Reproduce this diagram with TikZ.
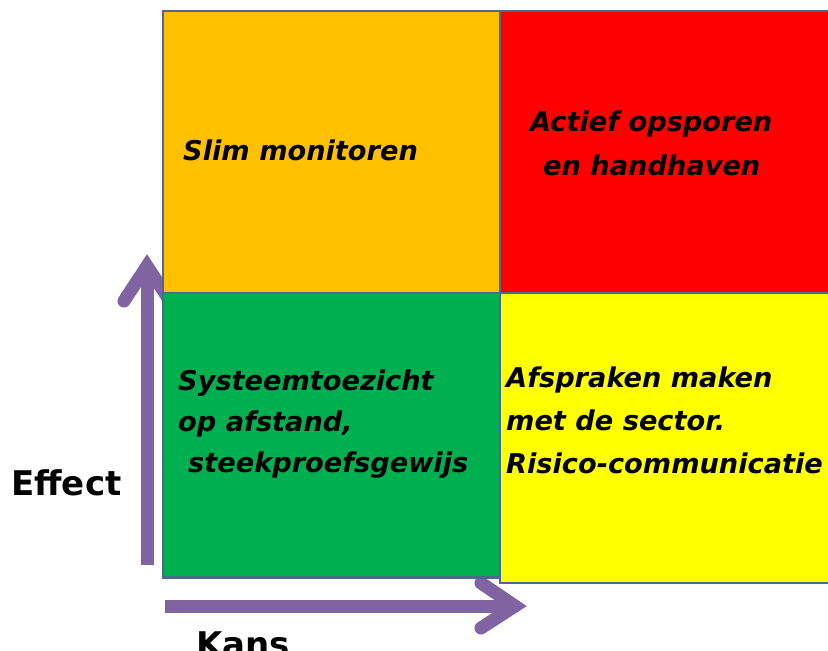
\documentclass[tikz,border=0pt]{standalone}
\usepackage{fontspec}
\setmainfont{DejaVu Sans}
\definecolor{qorange}{HTML}{FFC000}
\definecolor{qred}{HTML}{FF0000}
\definecolor{qgreen}{HTML}{00B050}
\definecolor{qyellow}{HTML}{FFFF00}
\definecolor{qpurple}{HTML}{8064A2}
\definecolor{qborder}{HTML}{4A6A8E}
\tikzset{
  quad/.style={draw=qborder, line width=1.8pt},
  qtext/.style={anchor=base west, inner sep=0pt, font=\fontsize{27.2}{30}\selectfont\bfseries\itshape},
  axtext/.style={anchor=base west, inner sep=0pt, font=\fontsize{34}{38}\selectfont\bfseries},
  shaft/.style={draw=qpurple, line width=13pt, line cap=butt},
  chevron/.style={draw=qpurple, line width=13pt, line cap=round, line join=miter},
}
\begin{document}
\begin{tikzpicture}[x=1pt,y=-1pt]
\useasboundingbox (0,0) rectangle (828,651);
% axes (drawn first, partly hidden behind the quadrants)
\coordinate (vstart) at (147,565);
\coordinate (vtip) at (147,266);
\coordinate (vl) at (124,301);
\coordinate (vr) at (170,301);
\coordinate (hstart) at (165,606);
\coordinate (htip) at (515,606);
\coordinate (hu) at (481,583);
\coordinate (hd) at (481,628);
\draw[shaft] (vstart) -- (vtip);
\draw[chevron] (vl) -- (vtip) -- (vr);
\draw[shaft] (hstart) -- (htip);
\draw[chevron] (hu) -- (htip) -- (hd);
% quadrants
\fill[qorange] (163,11) rectangle (500,293);
\fill[qred] (500,11) rectangle (832,293);
\fill[qgreen] (163,293) rectangle (500,578);
\fill[qyellow] (500,293) rectangle (832,583);
\draw[quad] (163,11) rectangle (500,293);
\draw[quad] (500,11) -- (832,11);
\draw[quad] (500,293) -- (832,293);
\draw[quad] (163,293) rectangle (500,578);
\draw[qborder, line width=3pt] (163,577) -- (500,577);
\draw[quad] (500,293) -- (500,583) -- (832,583);
% texts
\node[qtext] (t1) at (183,160) {Slim monitoren};
\node[qtext] (t2a) at (530,131) {Actief opsporen};
\node[qtext] (t2b) at (543,175) {en handhaven};
\node[qtext] (t3a) at (178,390) {Systeemtoezicht};
\node[qtext] (t3b) at (178,431) {op afstand,};
\node[qtext] (t3c) at (188,472) {steekproefsgewijs};
\node[qtext] (t4a) at (506,387) {Afspraken maken};
\node[qtext] (t4b) at (506,430) {met de sector.};
\node[qtext] (t4c) at (506,473) {Risico-communicatie};
\node[axtext] (eff) at (11,495) {Effect};
\node[axtext] (kans) at (196,656) {Kans};
\end{tikzpicture}
\end{document}
